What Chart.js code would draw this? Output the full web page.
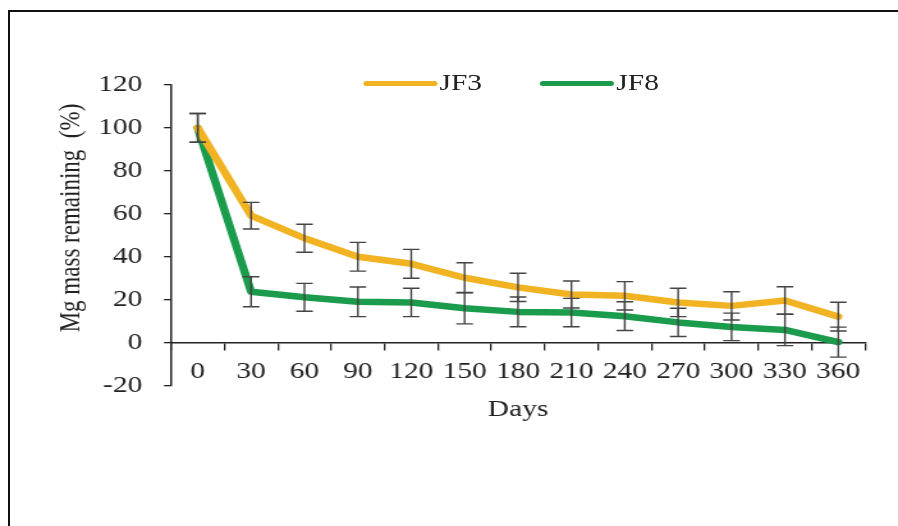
<!DOCTYPE html>
<html>
<head>
<meta charset="utf-8">
<title>Mg mass remaining</title>
<script src="https://cdn.jsdelivr.net/npm/chart.js@4.4.1/dist/chart.umd.min.js"></script>
<style>
  html, body { margin: 0; padding: 0; background: #fff; width: 898px; height: 526px; overflow: hidden; }
  #frame { position: absolute; left: 8px; top: 10px; width: 900px; height: 530px;
           border-top: 2px solid #111; border-left: 2px solid #111; }
  /* the original picture is stretched sideways, so the whole chart is drawn narrow and scaled up */
  #wrap { position: absolute; left: 0; top: 0; width: 702px; height: 526px;
          transform: scaleX(1.2792); transform-origin: 0 0; }
  #chart { position: absolute; left: 0; top: 0; }
  #legend { position: absolute; left: 283.6px; top: 71px; height: 24px; display: flex; gap: 45px; }
  .lg-item { display: flex; align-items: center; height: 24px; line-height: 24px;
             font: 23px "Liberation Serif", "Times New Roman", serif; color: #222; }
  .lg-swatch { display: inline-block; width: 58px; height: 5px; border-radius: 3px; margin-right: 2px; }
</style>
</head>
<body>
<div id="frame"></div>
<div id="wrap">
  <canvas id="chart" width="702" height="526"></canvas>
  <div id="legend"></div>
</div>
<script>
// --- data ---
const days = ['0', '30', '60', '90', '120', '150', '180', '210', '240', '270', '300', '330', '360'];
const jf3 = [100, 59.1, 48.6, 40.0, 36.7, 30.2, 25.7, 22.4, 21.8, 18.7, 17.1, 19.6, 12.1];
const jf3Err = [6.7, 6.2, 6.5, 6.7, 6.7, 7.0, 6.6, 6.3, 6.6, 6.6, 6.6, 6.4, 6.7];
const jf8 = [100, 23.7, 21.1, 19.0, 18.7, 16.0, 14.3, 14.0, 12.3, 9.4, 7.3, 5.9, 0.2];
const jf8Err = [6.7, 7.0, 6.5, 6.9, 6.6, 7.3, 6.9, 6.6, 6.7, 6.6, 6.4, 7.3, 7.0];
const seriesNames = ['JF3', 'JF8'];
const seriesColors = ['#F2B322', '#1B9C4C'];

const axisFont = { family: '"Liberation Serif", "Times New Roman", serif', size: 23 };
const ink = '#222';

// --- plugins ---
// vertical error bars with caps, placed through the chart scales
const errorBars = {
    id: 'errorBars',
    afterDatasetsDraw(chart) {
        const { ctx, scales: { x, y } } = chart;
        ctx.save();
        ctx.strokeStyle = '#444';
        ctx.lineWidth = 1.4;
        chart.data.datasets.forEach(ds => {
            ds.data.forEach((v, i) => {
                const px = x.getPixelForValue(i);
                const top = y.getPixelForValue(v + ds.errors[i]);
                const bot = y.getPixelForValue(v - ds.errors[i]);
                ctx.beginPath();
                ctx.moveTo(px, top); ctx.lineTo(px, bot);
                ctx.moveTo(px - 6.5, top); ctx.lineTo(px + 6.5, top);
                ctx.moveTo(px - 6.5, bot); ctx.lineTo(px + 6.5, bot);
                ctx.stroke();
            });
        });
        ctx.restore();
    }
};

// legend sits right on the top edge of the plot, so it is built as html
const htmlLegend = {
    id: 'htmlLegend',
    afterUpdate(chart) {
        document.getElementById('legend').innerHTML = chart.data.datasets.map(ds => `
            <div class="lg-item"><span class="lg-swatch" style="background:${ds.borderColor}"></span>${ds.label}</div>
        `).join('');
    }
};

// --- chart ---
new Chart(document.getElementById('chart'), {
    type: 'line',
    data: {
        labels: days,
        datasets: [
            { label: seriesNames[0], data: jf3, errors: jf3Err, borderColor: seriesColors[0] },
            { label: seriesNames[1], data: jf8, errors: jf8Err, borderColor: seriesColors[1] }
        ].map(ds => ({ ...ds, borderWidth: 6.5, pointRadius: 0, tension: 0,
                       borderJoinStyle: 'round', borderCapStyle: 'round', fill: false }))
    },
    options: {
        responsive: false,
        animation: false,
        devicePixelRatio: 1,
        layout: { padding: { left: 0, top: 85, right: 25.8, bottom: 140.5 } },
        plugins: { legend: { display: false }, tooltip: { enabled: false } },
        scales: {
            x: {
                type: 'category',
                position: { y: 0 },
                offset: true,
                grid: { offset: true, drawOnChartArea: false, tickLength: 7, color: ink, tickColor: ink, lineWidth: 1.3 },
                border: { color: ink, width: 1.5 },
                ticks: { color: ink, font: axisFont, padding: 9, maxRotation: 0, autoSkip: false },
                title: { display: true, text: 'Days', color: ink, font: axisFont, padding: 0 },
                afterFit: s => { s.height = 80.7; }
            },
            y: {
                min: -20,
                max: 120,
                ticks: { stepSize: 20, color: ink, font: axisFont, padding: 17 },
                grid: { drawOnChartArea: false, tickLength: 5.5, color: ink, tickColor: ink, lineWidth: 1.3 },
                border: { color: ink, width: 1.5 },
                title: { display: true, text: '      Mg mass remaining  (%)', color: ink, font: axisFont,
                         padding: { top: 41.7, bottom: 0 } },
                afterFit: s => { s.width = 133.7; }
            }
        }
    },
    plugins: [errorBars, htmlLegend]
});
</script>
</body>
</html>
